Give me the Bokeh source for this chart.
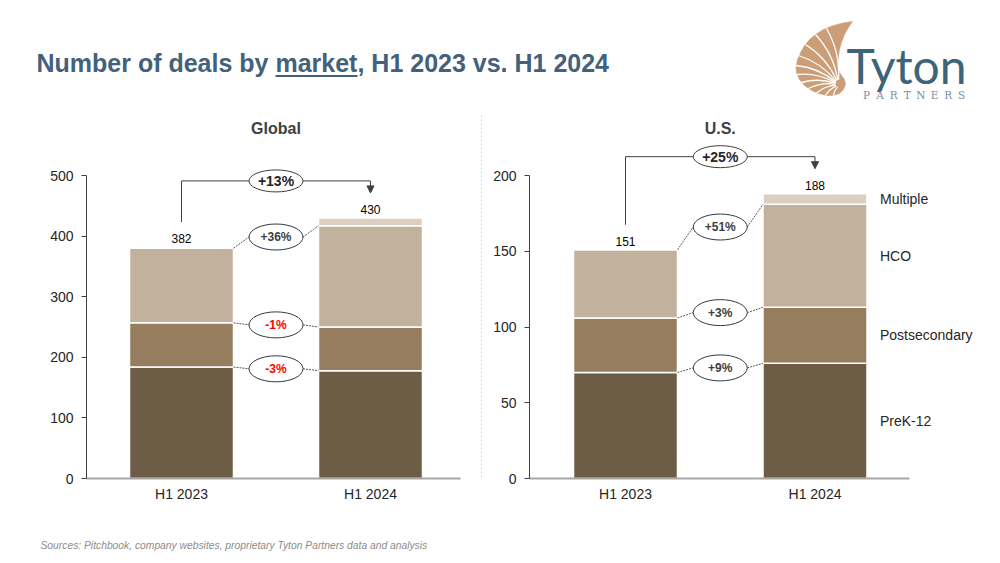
import math
from bokeh.plotting import figure
from bokeh.layouts import column, row
from bokeh.models import Range1d, FixedTicker, ColumnDataSource, Arrow, NormalHead
from bokeh.core.properties import value
from bokeh.embed import file_html
from bokeh.resources import INLINE

# ---------------- data ----------------
periods = ["H1 2023", "H1 2024"]
segments = ["PreK-12", "Postsecondary", "HCO", "Multiple"]

global_prek12 = [184, 178]
global_postsecondary = [73, 72]
global_hco = [123, 167]
global_multiple = [2, 13]
global_totals = [382, 430]
global_changes = ["-3%", "-1%", "+36%"]
global_total_change = "+13%"
global_ticks = [0, 100, 200, 300, 400, 500]

us_prek12 = [70, 76]
us_postsecondary = [36, 37]
us_hco = [45, 68]
us_multiple = [0, 7]
us_totals = [151, 188]
us_changes = ["+9%", "+3%", "+51%"]
us_total_change = "+25%"
us_ticks = [0, 50, 100, 150, 200]

seg_colors = ["#6E5D46", "#957D5E", "#C2B19C", "#DBCFC1"]

FONT = "Liberation Sans"
DARK = "#404040"
TXT = "#262626"


def make_panel(title, series, totals, changes, total_change, ticks,
               fig_left, fig_right, frame_left, center0, center1, axis_right,
               side_labels=False, separator=False):
    fig_top, frame_bottom, top_tick_y = 110, 478, 175
    frame_h = frame_bottom - fig_top
    ymax = ticks[-1]
    py = (frame_bottom - top_tick_y) / ymax          # px per unit (y)
    y_end = frame_h / py
    px = center1 - center0                           # px per unit (x)
    x_start = (frame_left - center0) / px
    x_end = (fig_right - center0) / px
    bw = 104 / px

    p = figure(width=fig_right - fig_left, height=400,
               x_range=Range1d(x_start, x_end), y_range=Range1d(0, y_end),
               output_backend="svg", toolbar_location=None,
               min_border_left=frame_left - fig_left, min_border_right=0,
               min_border_top=0, min_border_bottom=32)
    p.outline_line_color = None
    p.xgrid.visible = False
    p.ygrid.visible = False
    p.background_fill_color = "white"
    p.border_fill_color = "white"

    # axes
    p.yaxis.ticker = FixedTicker(ticks=ticks)
    p.yaxis.bounds = (0, ymax)
    p.yaxis.axis_line_color = DARK
    p.yaxis.axis_line_width = 1
    p.yaxis.major_tick_line_color = DARK
    p.yaxis.major_tick_out = 5
    p.yaxis.major_tick_in = 0
    p.yaxis.minor_tick_line_color = None
    p.yaxis.major_label_standoff = 8
    p.yaxis.major_label_text_font = FONT
    p.yaxis.major_label_text_font_size = "14px"
    p.yaxis.major_label_text_color = TXT

    p.xaxis.ticker = FixedTicker(ticks=[0, 1])
    p.xaxis.major_label_overrides = {0: periods[0], 1: periods[1]}
    p.xaxis.bounds = (x_start, (axis_right - center0) / px)
    p.xaxis.axis_line_color = "#A6A6A6"
    p.xaxis.axis_line_width = 2
    p.xaxis.major_tick_line_color = None
    p.xaxis.minor_tick_line_color = None
    p.xaxis.major_label_standoff = 1
    p.xaxis.major_label_text_font = FONT
    p.xaxis.major_label_text_font_size = "14px"
    p.xaxis.major_label_text_color = TXT

    # stacked bars
    data = {"x": [0, 1]}
    for name, vals in zip(segments, series):
        data[name] = vals
    src = ColumnDataSource(data)
    p.vbar_stack(segments, x="x", width=bw, color=seg_colors, source=src,
                 line_color="white", line_width=1.5)

    # total labels
    p.text(x=[0, 1], y=totals, text=[str(t) for t in totals],
           text_align="center", text_baseline="bottom", y_offset=-4,
           text_font=value(FONT), text_font_size="12px", text_color="black")

    # total bracket
    y_h = max(totals) + 37 / py
    left_bottom = totals[0] + 25 / py
    tip = totals[1] + 25 / py
    p.segment(x0=[0, 0], y0=[left_bottom, y_h], x1=[0, 1], y1=[y_h, y_h],
              line_color=DARK, line_width=1)
    p.add_layout(Arrow(end=NormalHead(size=7, fill_color=DARK, line_color=DARK),
                       x_start=1, y_start=y_h, x_end=1, y_end=tip,
                       line_color=DARK, line_width=1))
    p.ellipse(x=[0.5], y=[y_h], width=54, height=22,
              width_units="screen", height_units="screen",
              fill_color="white", line_color=DARK, line_width=1)
    p.text(x=[0.5], y=[y_h], text=[total_change], text_align="center",
           text_baseline="middle", text_font=value(FONT), text_font_size="14px",
           text_font_style="bold", text_color="#262626")

    # segment change bubbles
    cum0, cum1 = [], []
    s0 = s1 = 0
    for vals in series:
        s0 += vals[0]
        s1 += vals[1]
        cum0.append(s0)
        cum1.append(s1)
    eh = 27 / px
    for i, ch in enumerate(changes):
        mid = (cum0[i] + cum1[i]) / 2
        p.segment(x0=[bw / 2, 0.5 + eh], y0=[cum0[i], mid],
                  x1=[0.5 - eh, 1 - bw / 2], y1=[mid, cum1[i]],
                  line_color="#595959", line_width=1, line_dash="2 1")
        p.ellipse(x=[0.5], y=[mid], width=54, height=26,
                  width_units="screen", height_units="screen",
                  fill_color="white", line_color="#2F3B45", line_width=1)
        col = "#FF0000" if ch.startswith("-") else "#404040"
        p.text(x=[0.5], y=[mid], text=[ch], text_align="center",
               text_baseline="middle", text_font=value(FONT),
               text_font_size="12px", text_font_style="bold", text_color=col)

    # title
    p.text(x=[0.5], y=[y_end], text=[title], y_offset=18, text_align="center",
           text_baseline="middle", text_font=value(FONT), text_font_size="16px",
           text_font_style="bold", text_color=DARK)

    # side labels
    if side_labels:
        mids, prev = [], 0
        for c in cum1:
            mids.append((prev + c) / 2)
            prev = c
        p.text(x=[1 + bw / 2 + 13 / px] * len(segments), y=mids, text=segments,
               text_align="left", text_baseline="middle", text_font=value(FONT),
               text_font_size="14px", text_color=TXT)

    if separator:
        xs = x_end - 0.6 / px
        p.segment(x0=[xs], y0=[y_end - 5 / py], x1=[xs], y1=[0],
                  line_color="#BBBBBB", line_width=1, line_dash="2 2")
    return p


p_global = make_panel("Global",
                      [global_prek12, global_postsecondary, global_hco, global_multiple],
                      global_totals, global_changes, global_total_change, global_ticks,
                      fig_left=0, fig_right=482, frame_left=86, center0=181, center1=370,
                      axis_right=460, side_labels=False, separator=True)
p_us = make_panel("U.S.",
                  [us_prek12, us_postsecondary, us_hco, us_multiple],
                  us_totals, us_changes, us_total_change, us_ticks,
                  fig_left=482, fig_right=1000, frame_left=529, center0=625, center1=814.5,
                  axis_right=909, side_labels=True)

# ---------------- header ----------------
H = 110
h = figure(width=1000, height=H, x_range=Range1d(0, 1000), y_range=Range1d(0, H),
           x_axis_type=None, y_axis_type=None, output_backend="svg",
           toolbar_location=None, min_border=0)
h.outline_line_color = None
h.xgrid.visible = False
h.ygrid.visible = False
h.text(x=[36], y=[H - 62.5], text=["Number of deals by market, H1 2023 vs. H1 2024"],
       text_align="left", text_baseline="middle", text_font=value(FONT),
       text_font_size="25px", text_font_style="bold", text_color="#44617B")
h.segment(x0=[275], y0=[H - 75.5], x1=[357], y1=[H - 75.5],
          line_color="#44617B", line_width=2)

# logo shell (decorative, page coordinates converted to header coordinates)
shell_outline = [(852, 21), (845, 22), (838, 23.5), (830, 26), (822, 29.5), (815, 34),
                 (809, 39), (804, 45), (800, 52), (797, 59), (795.5, 66), (796, 73),
                 (799, 79), (804, 85), (811, 90), (818, 93), (826, 95), (833, 95),
                 (839, 93), (843, 89), (845, 84), (844, 79), (841, 75), (838, 70),
                 (837, 64), (838, 56), (839, 49), (841, 42), (844, 34), (848, 27)]
h.patch(x=[q[0] for q in shell_outline], y=[H - q[1] for q in shell_outline],
        fill_color="#CB9E78", line_color="#CB9E78", line_width=0.5)
apex = (839, 83)
rib_ends = [(826, 28), (815, 34), (805, 44), (798, 55), (795.5, 65), (796.5, 74),
            (801, 82), (808, 88), (816, 92.5), (825, 95), (833, 95.5)]
for ex, ey in rib_ends:
    dx, dy = ex - apex[0], ey - apex[1]
    L = math.hypot(dx, dy)
    sx, sy = apex[0] + dx / L * 4, apex[1] + dy / L * 4
    mx, my = (sx + ex) / 2, (sy + ey) / 2
    bow = 0.14 * L
    cxp, cyp = mx + (-dy / L) * bow, my + (dx / L) * bow
    h.quadratic(x0=[sx], y0=[H - sy], x1=[ex], y1=[H - ey], cx=[cxp], cy=[H - cyp],
                line_color="white", line_width=1.3)
h.text(x=[846], y=[H - 65], text=["Tyton"], text_align="left",
       text_baseline="middle", text_font=value("Lato"), text_font_size="48px",
       text_color="#3D6478")
letters = list("PARTNERS")
h.text(x=[866 + 13.6 * i for i in range(len(letters))], y=[H - 94.5] * len(letters),
       text=letters, text_align="center", text_baseline="middle",
       text_font=value("DejaVu Serif"), text_font_size="10.5px", text_color="#7A8EA2")

# ---------------- footer ----------------
f = figure(width=1000, height=53, x_range=Range1d(0, 1000), y_range=Range1d(0, 53),
           x_axis_type=None, y_axis_type=None, output_backend="svg",
           toolbar_location=None, min_border=0)
f.outline_line_color = None
f.xgrid.visible = False
f.ygrid.visible = False
f.text(x=[40], y=[563 - 545], text=["Sources: Pitchbook, company websites, proprietary Tyton Partners data and analysis"],
       text_align="left", text_baseline="middle", text_font=value(FONT),
       text_font_size="10.3px", text_font_style="italic", text_color="#8C8C8C")

layout = column(h, row(p_global, p_us), f)
open("out.html", "w").write(file_html(layout, INLINE))
